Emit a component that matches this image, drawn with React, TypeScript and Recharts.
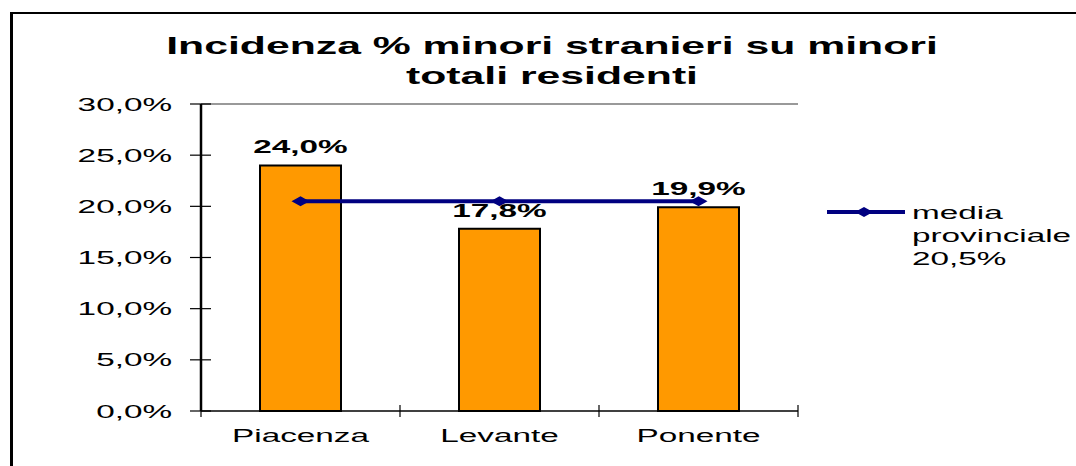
import {
  ComposedChart,
  Bar,
  Line,
  XAxis,
  YAxis,
  ReferenceLine,
  LabelList,
} from "recharts";

const regions = ["Piacenza", "Levante", "Ponente"];
const incidenza = [24.0, 17.8, 19.9]; // % minori stranieri
const mediaProvinciale = [20.5, 20.5, 20.5];
const yTicks = [0, 5, 10, 15, 20, 25, 30];
const titleLines = ["Incidenza % minori stranieri su minori", "totali residenti"];
const legendLines = ["media", "provinciale", "20,5%"];

const data = regions.map((name, i) => ({
  name,
  incidenza: incidenza[i],
  media: mediaProvinciale[i],
}));

const FONT = '"Liberation Sans", Arial, sans-serif';
const NAVY = "#000080";
const STRETCH = 1.8; // the original text is drawn wide

const fmt = (v: number) => `${Number(v).toFixed(1).replace(".", ",")}%`;

function YTick(props: any) {
  const { x, y, payload } = props;
  return (
    <g>
      <line x1={x - 11} x2={x + 10} y1={y} y2={y} stroke="#000" strokeWidth={1.2} />
      <text
        transform={`translate(${x - 29},${y + 6.5}) scale(${STRETCH},1)`}
        textAnchor="end"
        fontSize={18.5}
        fontFamily={FONT}
        fill="#000"
      >
        {fmt(payload.value)}
      </text>
    </g>
  );
}

function XTick(props: any) {
  const { x, y, payload, index } = props;
  const half = payload.offset > 0 ? payload.offset : 99.5;
  const last = index === regions.length - 1;
  return (
    <g>
      <line x1={x - half} x2={x - half} y1={y - 6} y2={y + 6} stroke="#000" strokeWidth={1.2} />
      {last && (
        <line x1={x + half} x2={x + half} y1={y - 6} y2={y + 6} stroke="#000" strokeWidth={1.2} />
      )}
      <text
        transform={`translate(${x},${y + 31}) scale(${STRETCH},1)`}
        textAnchor="middle"
        fontSize={18.5}
        fontFamily={FONT}
        fill="#000"
      >
        {payload.value}
      </text>
    </g>
  );
}

function BarLabel(props: any) {
  const x = Number(props.x);
  const y = Number(props.y);
  const width = Number(props.width);
  return (
    <text
      transform={`translate(${x + width / 2},${y - 12}) scale(${STRETCH},1)`}
      textAnchor="middle"
      fontSize={18.5}
      fontWeight="bold"
      fontFamily={FONT}
      fill="#000"
    >
      {fmt(props.value)}
    </text>
  );
}

function Diamond(props: any) {
  const { cx, cy } = props;
  if (cx == null || cy == null) return null;
  return (
    <polygon
      points={`${cx - 9},${cy} ${cx},${cy - 5} ${cx + 9},${cy} ${cx},${cy + 5}`}
      fill={NAVY}
    />
  );
}

export default function App() {
  return (
    <div
      style={{
        position: "relative",
        width: 1076,
        height: 466,
        overflow: "hidden",
        background: "#fff",
      }}
    >
      <style>{"body{margin:0}"}</style>
      <div
        style={{
          position: "absolute",
          left: 10,
          top: 12,
          right: -20,
          bottom: -20,
          borderLeft: "3px solid #000",
          borderTop: "2px solid #000",
        }}
      />
      <div
        style={{
          position: "absolute",
          left: 0,
          top: 31,
          width: 1104,
          textAlign: "center",
          whiteSpace: "nowrap",
          fontFamily: FONT,
          fontWeight: "bold",
          fontSize: 24,
          lineHeight: "30px",
          transform: "scaleX(1.78)",
          transformOrigin: "552px 0",
        }}
      >
        {titleLines.map((t) => (
          <div key={t}>{t}</div>
        ))}
      </div>
      <div style={{ position: "absolute", left: 0, top: 0 }}>
        <ComposedChart
          width={1076}
          height={466}
          data={data}
          margin={{ top: 104, right: 278, bottom: 15, left: 141 }}
        >
          <XAxis
            dataKey="name"
            height={40}
            tickSize={0}
            tickMargin={0}
            tickLine={false}
            axisLine={{ stroke: "#000", strokeWidth: 1.5 }}
            tick={<XTick />}
            interval={0}
          />
          <YAxis
            width={60}
            domain={[0, 30]}
            ticks={yTicks}
            tickSize={0}
            tickMargin={0}
            tickLine={false}
            axisLine={{ stroke: "#000", strokeWidth: 2.5 }}
            tick={<YTick />}
            interval={0}
          />
          <YAxis
            yAxisId="r"
            orientation="right"
            width={0}
            domain={[0, 30]}
            tick={false}
            tickLine={false}
            axisLine={{ stroke: "#999", strokeWidth: 2 }}
          />
          <ReferenceLine y={30} stroke="#999" strokeWidth={2} />
          <Bar
            dataKey="incidenza"
            barSize={81}
            fill="#FF9900"
            stroke="#000"
            strokeWidth={2}
            isAnimationActive={false}
          >
            <LabelList dataKey="incidenza" content={<BarLabel />} />
          </Bar>
          <Line
            dataKey="media"
            stroke={NAVY}
            strokeWidth={4}
            dot={<Diamond />}
            activeDot={false}
            isAnimationActive={false}
          />
        </ComposedChart>
      </div>
      <svg
        width={1076}
        height={466}
        style={{ position: "absolute", left: 0, top: 0, pointerEvents: "none" }}
      >
        <line x1={827} x2={905} y1={212} y2={212} stroke={NAVY} strokeWidth={4} />
        <Diamond cx={864} cy={212} />
        {legendLines.map((t, i) => (
          <text
            key={t}
            transform={`translate(912,${219 + i * 23}) scale(1.8,1)`}
            fontSize={18.5}
            fontFamily={FONT}
            fill="#000"
          >
            {t}
          </text>
        ))}
      </svg>
    </div>
  );
}
